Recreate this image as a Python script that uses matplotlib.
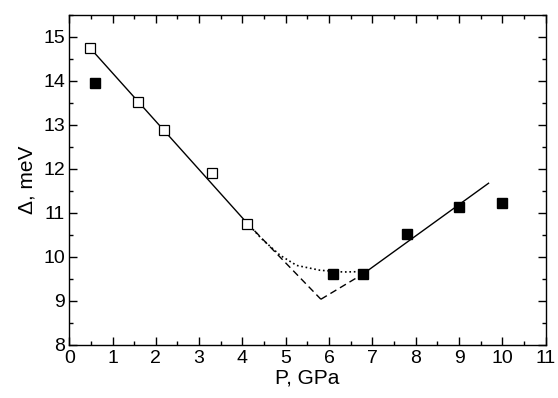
import numpy as np
import matplotlib.pyplot as plt
from matplotlib.ticker import MultipleLocator

plt.rcParams['font.family'] = ['Liberation Sans', 'DejaVu Sans']

# Dados: quadrados abertos e cheios
p_aberto = [0.49, 1.59, 2.19, 3.30, 4.10]
d_aberto = [14.74, 13.52, 12.89, 11.90, 10.75]
p_cheio = [0.60, 6.08, 6.79, 7.79, 8.99, 9.99]
d_cheio = [13.96, 9.60, 9.61, 10.51, 11.12, 11.22]

# Ajustes
p_reta1 = [0.49, 4.10]
d_reta1 = [14.74, 10.77]
p_trac1 = [4.10, 5.81]
d_trac1 = [10.77, 9.03]
p_trac2 = [5.81, 6.79]
d_trac2 = [9.03, 9.61]
p_reta2 = [6.79, 9.68]
d_reta2 = [9.61, 11.67]
p_pont = [4.10, 4.45, 4.87, 5.25, 5.79, 6.33, 6.79]
d_pont = [10.77, 10.40, 10.03, 9.80, 9.69, 9.65, 9.66]

fig = plt.figure(figsize=(5.58, 3.98), dpi=100)
ax = fig.add_axes([0.124, 0.1344, 0.854, 0.828])

ax.plot(p_reta1, d_reta1, 'k-', lw=1)
ax.plot(p_reta2, d_reta2, 'k-', lw=1)
ax.plot(p_trac1, d_trac1, 'k--', lw=1, dashes=(5, 3))
ax.plot(p_trac2, d_trac2, 'k--', lw=1, dashes=(5, 3))
ax.plot(p_pont, d_pont, 'k:', lw=1.2)
ax.plot(p_aberto, d_aberto, 's', ms=7, mfc='white', mec='k', mew=0.9)
ax.plot(p_cheio, d_cheio, 's', ms=7.5, mfc='k', mec='k')

ax.set_xlim(0, 11)
ax.set_ylim(8, 15.5)
ax.xaxis.set_major_locator(MultipleLocator(1))
ax.xaxis.set_minor_locator(MultipleLocator(0.5))
ax.yaxis.set_major_locator(MultipleLocator(1))
ax.yaxis.set_minor_locator(MultipleLocator(0.5))
ax.tick_params(which='both', direction='in', top=True, right=True, labelsize=14)
ax.tick_params(which='major', length=6, width=1)
ax.tick_params(which='minor', length=3, width=1)
ax.tick_params(axis='x', pad=4)
ax.tick_params(axis='y', pad=3)
for s in ax.spines.values():
    s.set_linewidth(1)

ax.set_xlabel('P, GPa', fontsize=15, labelpad=1)
ax.set_ylabel('Δ, meV', fontsize=15, labelpad=5)

plt.savefig('out.png', dpi=100)
